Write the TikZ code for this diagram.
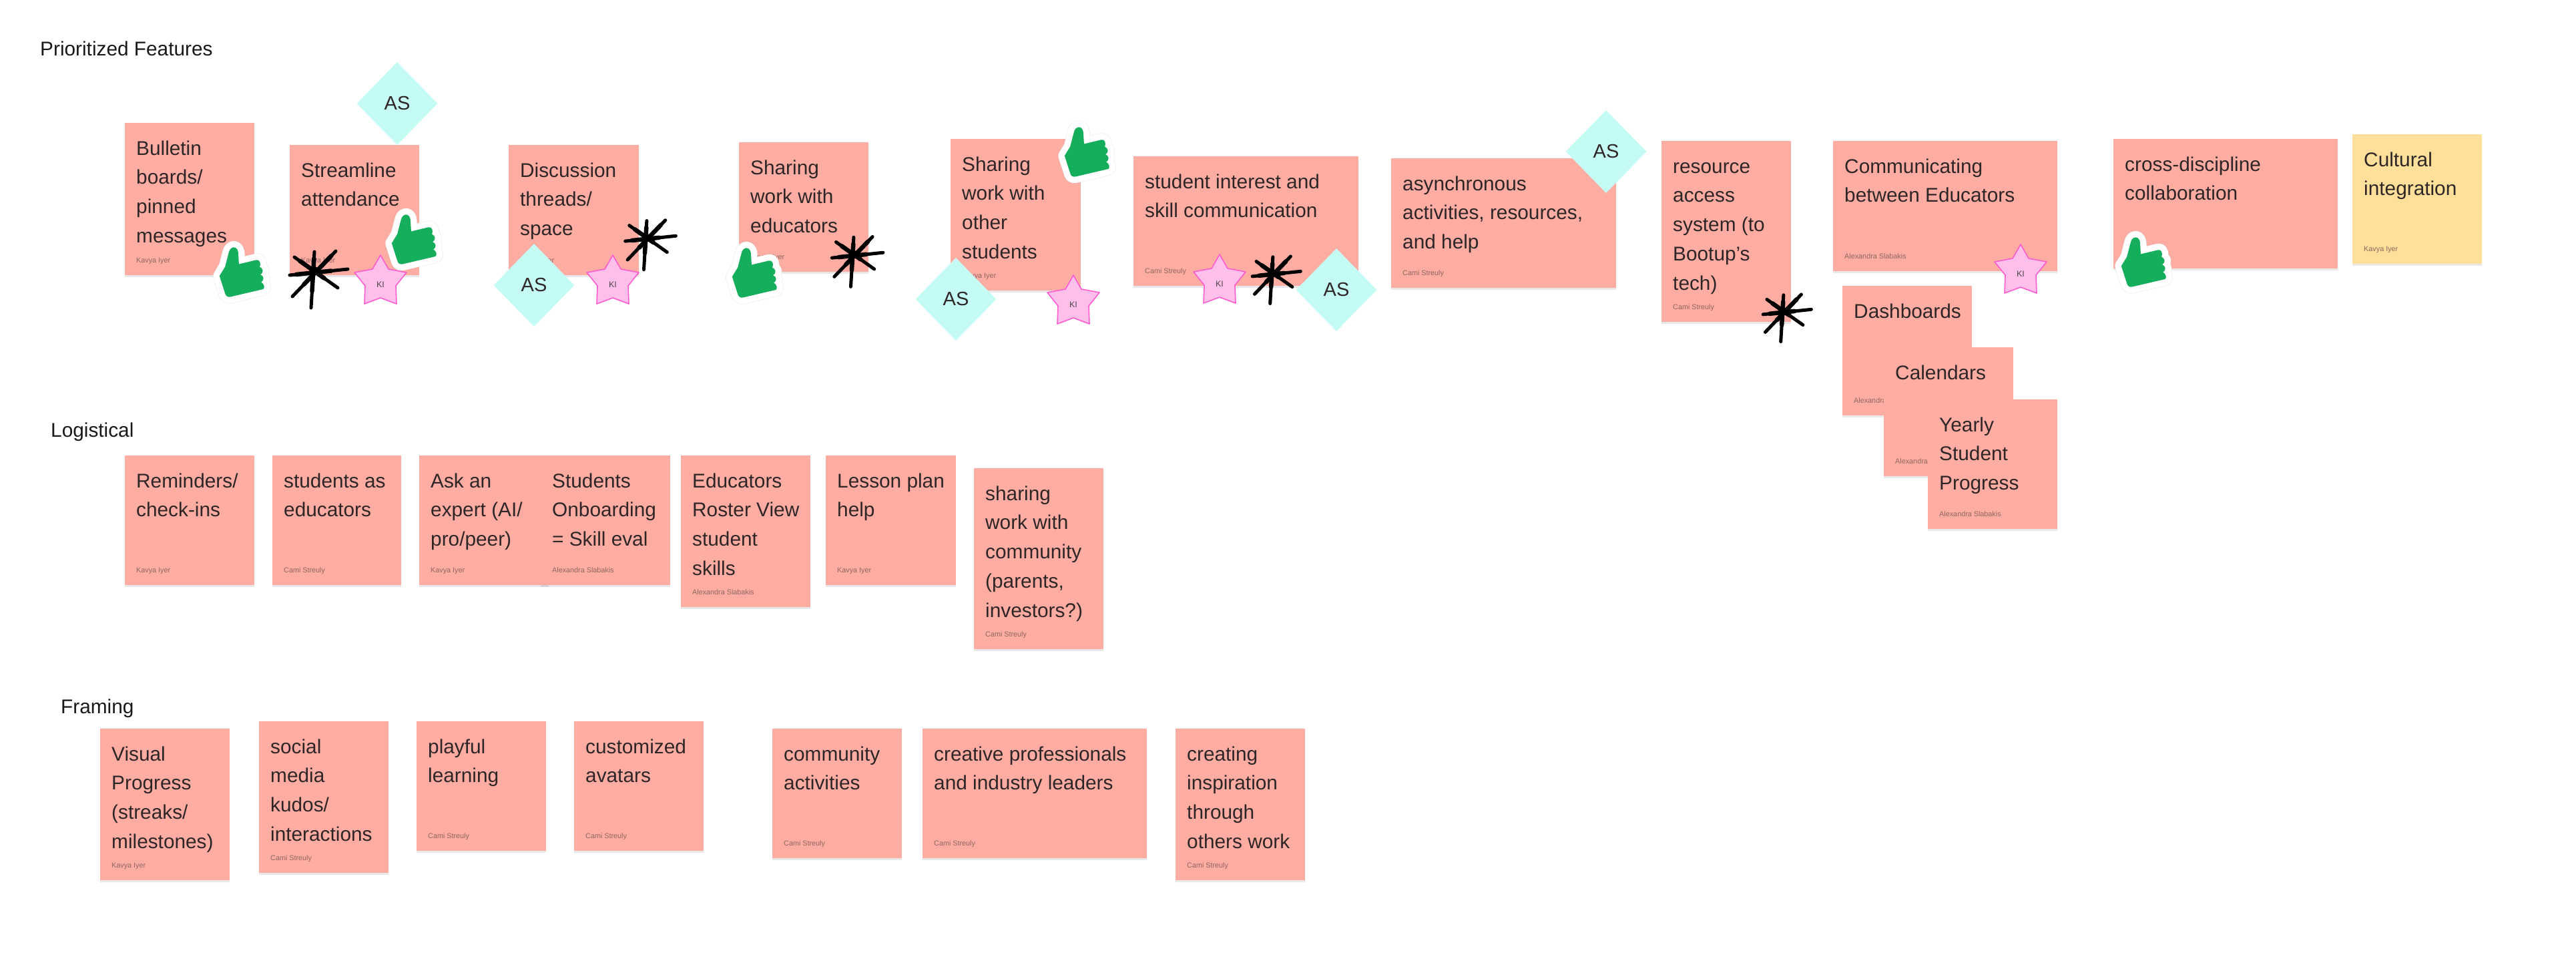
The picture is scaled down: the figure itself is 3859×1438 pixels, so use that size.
\documentclass[tikz,border=0pt]{standalone}
\usepackage{fontspec}
\setmainfont{Liberation Sans}
\usetikzlibrary{shapes.geometric,shadows}
\definecolor{stickyred}{HTML}{FFADA3}
\definecolor{stickyyellow}{HTML}{FFE09A}
\definecolor{inkdark}{HTML}{2E2626}
\definecolor{authorink}{HTML}{8C6660}
\definecolor{asfill}{HTML}{C4FBF4}
\definecolor{kifill}{HTML}{FFBFEB}
\definecolor{kiline}{HTML}{FF5CD0}
\definecolor{thumbgreen}{HTML}{14AE5C}
\definecolor{thumbshadow}{HTML}{AEBDB5}
\newcommand{\inkstroke}[4]{%
  \draw[black,line width=5pt,line cap=round] (#1,#2) -- (#3,#4);
  \draw[black,line width=6.5pt,line cap=round,shorten >=25pt,shorten <=10pt] (#1,#2) -- (#3,#4);
}
\tikzset{
  stickybox/.style={anchor=north west,inner sep=0pt,fill=#1,general shadow={shadow yshift=-2.5pt,fill=black,opacity=.09}},
  stickybox/.default=stickyred,
  bodytext/.style={anchor=north west,inner sep=0pt,align=left,text=inkdark,font=\fontsize{29.8}{43.7}\selectfont},
  authortext/.style={anchor=base west,inner sep=0pt,text=authorink,font=\fontsize{10.8}{12}\selectfont},
  heading/.style={anchor=base west,inner sep=0pt,text=black!90,font=\fontsize{29.8}{36}\selectfont},
  asmark/.style={diamond,inner sep=0pt,minimum width=121pt,minimum height=124pt,fill=asfill,text=inkdark,font=\fontsize{29}{34}\selectfont},
  thumbpath/.style={insert path={(-30,5) -- (-22,-8) -- (-16.5,-29) .. controls (-15,-37) and (-5,-40) .. (-3,-29) -- (-2,-12) -- (23,-18) .. controls (28,-19) and (30,-13) .. (28,-8) .. controls (33,-6) and (34,0) .. (29,3) .. controls (34,5) and (35,11) .. (30,14) .. controls (34,16) and (36,22) .. (33,24) -- (-14,35) .. controls (-18,36) and (-21,34) .. (-22,30) -- cycle}},
  thumbup/.pic={
    \path[thumbpath,shift={(1,2)},draw=thumbshadow,opacity=.6,line width=19.5pt,line join=round];
    \path[thumbpath,draw=white,fill=white,line width=19pt,line join=round];
    \path[thumbpath,fill=thumbgreen];
  },
  inkstar/.pic={
    \inkstroke{1}{-28}{-4}{56}
    \inkstroke{-29}{-20}{36}{26}
    \inkstroke{33}{-29}{-32}{39}
    \inkstroke{-36}{7}{51}{-2}
    \fill[black] (0,0) circle (6.5pt);
  },
  kistar/.pic={
    \path[fill=kifill,draw=kiline,line width=1.6pt,line join=round] (0,0) -- (12,21) -- (39,26) -- (23,46) -- (24,73) -- (0,64) -- (-24,73) -- (-23,46) -- (-39,26) -- (-12,21) -- cycle;
    \node[inner sep=0pt,text=inkdark!85,font=\fontsize{12.5}{14}\selectfont] (-label) at (0,44) {KI};
  },
}
% \sticky[colour]{name}{x}{y}{w}{h}{text}{author}
\newcommand{\sticky}[8][stickyred]{%
  \node[stickybox=#1,minimum width=#5pt,minimum height=#6pt] (#2) at (#3,#4) {};
  \node[bodytext] (#2-text) at ([xshift=17pt,yshift=-18pt]#2.north west) {\rule{0pt}{30pt}#7};
  \node[authortext] (#2-author) at ([xshift=17pt,yshift=19pt]#2.south west) {#8};
}
\begin{document}
\begin{tikzpicture}[x=1pt,y=-1pt]
\useasboundingbox (0,0) rectangle (3859,1438);
\fill[white] (0,0) rectangle (3859,1438);
% headings
\node[heading] (h1) at (60,83) {Prioritized Features};
\node[heading] (h2) at (76,654) {Logistical};
\node[heading] (h3) at (91,1068) {Framing};
% prioritised row
\sticky{bulletin}{187}{184}{194}{228}{Bulletin\\boards/\\pinned\\messages}{Kavya Iyer}
\sticky{streamline}{434}{217}{194}{195}{Streamline\\attendance}{Kavya Iyer}
\sticky{discussion}{762}{217}{195}{195}{Discussion\\threads/\\space}{Kavya Iyer}
\sticky{shareedu}{1107}{213}{194}{194}{Sharing\\work with\\educators}{Kavya Iyer}
\sticky{shareother}{1424}{208}{195}{227}{Sharing\\work with\\other\\students}{Kavya Iyer}
\sticky{interest}{1698}{234}{337}{194}{student interest and\\skill communication}{Cami Streuly}
\sticky{async}{2084}{237}{337}{194}{asynchronous\\activities, resources,\\and help}{Cami Streuly}
\sticky{resource}{2489}{211}{194}{271}{resource\\access\\system (to\\Bootup’s\\tech)}{Cami Streuly}
\sticky{commedu}{2746}{211}{336}{195}{Communicating\\between Educators}{Alexandra Slabakis}
\sticky{cross}{3166}{208}{336}{194}{cross-discipline\\collaboration}{}
\sticky[stickyyellow]{cultural}{3524}{201}{194}{194}{Cultural\\integration}{Kavya Iyer}
\sticky{dash}{2760}{428}{194}{194}{Dashboards}{Alexandra Slabakis}
\sticky{calendars}{2822}{520}{194}{193}{Calendars}{Alexandra Slabakis}
\sticky{yearly}{2888}{598}{194}{194}{Yearly\\Student\\Progress}{Alexandra Slabakis}
% logistical row
\sticky{reminders}{187}{682}{194}{194}{Reminders/\\check-ins}{Kavya Iyer}
\sticky{studedu}{408}{682}{193}{194}{students as\\educators}{Cami Streuly}
\sticky{askexpert}{628}{682}{194}{194}{Ask an\\expert (AI/\\pro/peer)}{Kavya Iyer}
\sticky{onboard}{810}{682}{194}{194}{Students\\Onboarding\\= Skill eval}{Alexandra Slabakis}
\sticky{roster}{1020}{682}{194}{227}{Educators\\Roster View\\student\\skills}{Alexandra Slabakis}
\sticky{lesson}{1237}{682}{195}{194}{Lesson plan\\help}{Kavya Iyer}
\sticky{sharecomm}{1459}{701}{194}{271}{sharing\\work with\\community\\(parents,\\investors?)}{Cami Streuly}
% framing row
\sticky{visual}{150}{1091}{194}{227}{Visual\\Progress\\(streaks/\\milestones)}{Kavya Iyer}
\sticky{social}{388}{1080}{194}{227}{social\\media\\kudos/\\interactions}{Cami Streuly}
\sticky{playful}{624}{1080}{194}{194}{playful\\learning}{Cami Streuly}
\sticky{avatars}{860}{1080}{194}{194}{customized\\avatars}{Cami Streuly}
\sticky{commact}{1157}{1091}{194}{194}{community\\activities}{Cami Streuly}
\sticky{creative}{1382}{1091}{336}{194}{creative professionals\\and industry leaders}{Cami Streuly}
\sticky{inspire}{1761}{1091}{194}{227}{creating\\inspiration\\through\\others work}{Cami Streuly}
% AS diamonds
\node[asmark] (as1) at (595,155) {AS};
\node[asmark] (as2) at (800,427) {AS};
\node[asmark] (as3) at (1432,448) {AS};
\node[asmark] (as4) at (2002,434) {AS};
\node[asmark] (as5) at (2406,227) {AS};
% KI stars
\pic (ki1) at (570,382) {kistar};
\pic (ki2) at (918,382) {kistar};
\pic (ki3) at (1608,412) {kistar};
\pic (ki4) at (1827,381) {kistar};
\pic (ki5) at (3027,366) {kistar};
% ink asterisks
\pic (ink1) at (470,405) {inkstar};
\pic[scale=.87] (ink2) at (968,355) {inkstar};
\pic[scale=.88] (ink3) at (1278,380) {inkstar};
\pic[scale=.83] (ink4) at (1906,408) {inkstar};
\pic[scale=.83] (ink5) at (2671,465) {inkstar};
% thumbs
\pic[scale=1.04] (up1) at (360,408) {thumbup};
\pic[scale=1.04] (up2) at (618,359) {thumbup};
\pic[scale=1.04] (up3) at (1128,409) {thumbup};
\pic[scale=1.04] (up4) at (1626,228) {thumbup};
\pic[scale=1.04] (up5) at (3209,393) {thumbup};
\end{tikzpicture}
\end{document}
